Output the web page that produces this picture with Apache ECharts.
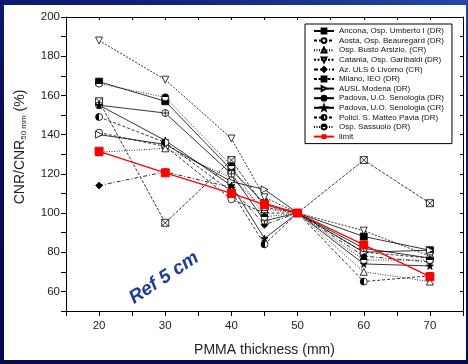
<!DOCTYPE html>
<html>
<head>
<meta charset="utf-8">
<script src="https://cdn.jsdelivr.net/npm/echarts@6/dist/echarts.min.js"></script>
<style>
html, body { margin: 0; padding: 0; }
body { width: 468px; height: 364px; overflow: hidden; position: relative;
  background: linear-gradient(200deg, #2648a8 0%, #12207a 22%, #090c55 55%, #070a4c 100%); }
#panel { position: absolute; left: 4px; top: 5px; width: 462px; height: 355px; background: #fff; }
#main { position: absolute; left: 0; top: 0; width: 468px; height: 364px; }
</style>
</head>
<body>
<div id="panel"></div>
<div id="main"></div>
<script>
// PMMA thickness (mm)
var thickness = [20, 30, 40, 45, 50, 60, 70];

// CNR/CNR50mm (%) per centre
var ancona    = [167, 157, 122, 105, 100, 88, 81];
var aosta     = [141, 134, 107, 100, 100, 80, 77];
var busto     = [131, 133, 118, 102, 100, 70, 65];
var catania   = [188, 168, 138, 108, 100, 91, 78];
var livorno   = [114, 121, 113, 94, 100, 78, 75];
var milano    = [157, 95, 127, 103, 100, 127, 105];
var modena    = [140, 135, 116, 112, 100, 80, 81];
var padovaDR  = [155, 151, 120, 96, 100, 82, 77];
var padovaCR  = [155, 137, 114, 87, 100, 74, 73];
var pavia     = [149, 136, 111, 84, 100, 65, 68];
var sassuolo  = [166, 159, 124, 98, 100, 76, 76];
var limit     = [131.5, 120.5, 110, 104.3, 100, 83.7, 67.5];

var names = [
  'Ancona, Osp. Umberto I (DR)',
  'Aosta, Osp. Beauregard (DR)',
  'Osp. Busto Arsizio, (CR)',
  'Catania, Osp. Garibaldi (DR)',
  'Az. ULS 6 Livorno (CR)',
  'Milano, IEO (DR)',
  'AUSL Modena (DR)',
  'Padova, U.O. Senologia (DR)',
  'Padova, U.O. Senologia (CR)',
  'Policl. S. Matteo Pavia (DR)',
  'Osp. Sassuolo (DR)',
  'limit'
];

var xSquare = 'path://M0,0L10,0L10,10L0,10ZM0,0L10,10M10,0L0,10';
var triRight = 'path://M0,0L10,5L0,10Z';
var triDown = 'path://M0,0L10,0L5,10Z';
var circlePlus = 'path://M0,5A5,5,0,1,1,10,5A5,5,0,1,1,0,5ZM5,0L5,10M0,5L10,5';
var star = 'path://M5,0L6.2,3.6L10,3.6L6.9,5.9L8.1,9.5L5,7.3L1.9,9.5L3.1,5.9L0,3.6L3.8,3.6Z';

function half(vertical) {
  return {
    type: 'linear', x: 0, y: 0, x2: vertical ? 0 : 1, y2: vertical ? 1 : 0,
    colorStops: [
      {offset: 0, color: '#000'}, {offset: 0.5, color: '#000'},
      {offset: 0.5, color: '#fff'}, {offset: 1, color: '#fff'}
    ]
  };
}

function mk(name, vals, symbol, fill, dash) {
  return {
    name: name,
    type: 'line',
    data: thickness.map(function (x, i) { return [x, vals[i]]; }),
    symbol: symbol,
    symbolSize: 7,
    lineStyle: {color: '#000', width: 0.8, type: dash},
    itemStyle: {color: fill, borderColor: '#000', borderWidth: 0.8},
    emphasis: {disabled: true}
  };
}

var series = [
  mk(names[0], ancona, 'rect', '#000', 'solid'),
  mk(names[1], aosta, 'circle', '#fff', [3, 2]),
  mk(names[2], busto, 'triangle', '#fff', [1, 1.5]),
  mk(names[3], catania, triDown, '#fff', [2, 1.5]),
  mk(names[4], livorno, 'diamond', '#000', [4, 2, 1, 2]),
  mk(names[5], milano, xSquare, '#fff', [3, 1.5]),
  mk(names[6], modena, triRight, '#fff', 'solid'),
  mk(names[7], padovaDR, circlePlus, '#fff', 'solid'),
  mk(names[8], padovaCR, star, '#000', 'solid'),
  mk(names[9], pavia, 'circle', half(false), [3, 2]),
  mk(names[10], sassuolo, 'circle', half(true), [1, 1.5]),
  {
    name: names[11],
    type: 'line',
    data: thickness.map(function (x, i) { return [x, limit[i]]; }),
    symbol: 'rect',
    symbolSize: 8,
    lineStyle: {color: '#ff0000', width: 1.3},
    itemStyle: {color: '#ff0000', borderColor: '#ff0000'},
    emphasis: {disabled: true},
    z: 5
  }
];

var chart = echarts.init(document.getElementById('main'), null, {renderer: 'canvas'});
var font = 'Liberation Sans, Arial, sans-serif';

// y axis title with subscript, pieces laid end to end (rotated, reading upward)
var ctx = document.createElement('canvas').getContext('2d');
function tw(txt, f) { ctx.font = f; return ctx.measureText(txt).width; }
var fBig = '14px ' + font, fSub = '8px ' + font;
var w1 = tw('CNR/CNR', fBig), w2 = tw('50 mm', fSub), w3 = tw(' (%)', fBig);
var yStart = 147 + (w1 + w2 + w3) / 2;

chart.setOption({
  animation: false,
  backgroundColor: 'transparent',
  textStyle: {fontFamily: font},
  grid: {left: 66, right: 5, top: 17, bottom: 53},
  legend: {
    orient: 'vertical',
    left: 305,
    top: 24,
    padding: [3, 8, 3, 8],
    itemWidth: 20,
    itemHeight: 6,
    itemGap: 1.6,
    borderColor: '#000',
    borderWidth: 1,
    backgroundColor: '#fff',
    textStyle: {fontSize: 8, lineHeight: 8, color: '#111', fontFamily: font},
    data: names
  },
  xAxis: [{
    type: 'value', min: 15, max: 75, interval: 5, position: 'bottom',
    axisLine: {onZero: false, lineStyle: {color: '#000', width: 1}},
    axisTick: {length: 5, lineStyle: {color: '#000'}},
    axisLabel: {
      fontSize: 11.5, color: '#222', margin: 9,
      formatter: function (v) { return v % 10 === 0 ? v : ''; }
    },
    splitLine: {show: false},
    name: 'PMMA thickness (mm)', nameLocation: 'middle', nameGap: 32,
    nameTextStyle: {fontSize: 14, color: '#222'}
  }, {
    type: 'value', min: 15, max: 75, interval: 5, position: 'top',
    axisLine: {onZero: false, lineStyle: {color: '#000', width: 1}},
    axisTick: {inside: true, length: 3, lineStyle: {color: '#000'}},
    axisLabel: {show: false}, splitLine: {show: false}
  }],
  yAxis: [{
    type: 'value', min: 50, max: 200, interval: 10, position: 'left',
    axisLine: {show: true, onZero: false, lineStyle: {color: '#000', width: 1}},
    axisTick: {show: true, length: 5, lineStyle: {color: '#000'}},
    axisLabel: {
      fontSize: 11.5, color: '#222', margin: 6,
      formatter: function (v) { return (v % 20 === 0 && v >= 60) ? v : ''; }
    },
    splitLine: {show: false}
  }, {
    type: 'value', min: 50, max: 200, interval: 10, position: 'right',
    axisLine: {show: true, onZero: false, lineStyle: {color: '#000', width: 1}},
    axisTick: {show: true, inside: true, length: 3, lineStyle: {color: '#000'}},
    axisLabel: {show: false}, splitLine: {show: false}
  }],
  graphic: [{
    type: 'text', x: 20, y: yStart, rotation: Math.PI / 2,
    style: {text: 'CNR/CNR', font: fBig, fill: '#222', align: 'left', verticalAlign: 'middle'}
  }, {
    type: 'text', x: 24, y: yStart - w1, rotation: Math.PI / 2,
    style: {text: '50 mm', font: fSub, fill: '#222', align: 'left', verticalAlign: 'middle'}
  }, {
    type: 'text', x: 20, y: yStart - w1 - w2, rotation: Math.PI / 2,
    style: {text: ' (%)', font: fBig, fill: '#222', align: 'left', verticalAlign: 'middle'}
  }, {
    type: 'text',
    x: 164, y: 278,
    rotation: 0.585,
    z: 10,
    style: {
      text: 'Ref 5 cm',
      font: 'italic bold 19px ' + font,
      fill: '#1d3c9a',
      align: 'center', verticalAlign: 'middle',
      shadowColor: 'rgba(0,0,0,0.35)', shadowBlur: 2, shadowOffsetX: 1, shadowOffsetY: 1
    }
  }],
  series: series
});
</script>
</body>
</html>
